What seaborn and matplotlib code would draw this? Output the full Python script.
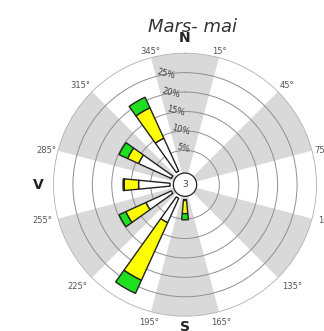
import numpy as np
import seaborn as sns
import matplotlib
matplotlib.use("Agg")
import matplotlib.pyplot as plt

# data (percent of observations per direction, stacked by wind class)
directions = [330, 300, 270, 240, 210, 180]
light = [9.3, 9.3, 8.1, 7.2, 6.9, 0.2]
moderate = [8.6, 3.1, 3.7, 5.7, 16.3, 3.4]
strong = [3.0, 2.4, 0.3, 1.9, 3.7, 1.6]
calm = "3"

ring_values = [5, 10, 15, 20, 25]
ring_labels = ["5%", "10%", "15%", "20%", "25%"]
angle_ticks = [15, 45, 75, 105, 135, 165, 195, 225, 255, 285, 315, 345]
angle_labels = ["15°", "45°", "75°", "105°", "135°", "165°",
                "195°", "225°", "255°", "285°", "315°", "345°"]
compass = [(0, "N"), (270, "V"), (180, "S")]
title = "Mars- mai"

sns.set_style("white")
plt.rcParams["font.family"] = ["DejaVu Sans"]

rmin, rmax = -3.85, 30

fig = plt.figure(figsize=(3.24, 3.31), dpi=100)
ax = fig.add_axes([0.1651, 0.0447, 0.8117, 0.7946], projection="polar")
ax.set_theta_zero_location("N")
ax.set_theta_direction(-1)
ax.set_ylim(rmin, rmax)
ax.set_axisbelow(True)

# alternating grey sectors
sect = np.radians(np.arange(0, 360, 60))
ax.bar(sect, rmax - rmin, width=np.radians(30), bottom=rmin,
       color="#d9d9d9", edgecolor="none", zorder=0.2)

# rings
ax.set_yticks(ring_values)
ax.set_yticklabels([])
ax.set_xticks([])
ax.yaxis.grid(True, color="#8f8f8f", lw=0.7)
ax.xaxis.grid(False)
ax.spines["polar"].set_color("#b0b0b0")
ax.spines["polar"].set_linewidth(0.6)

# stacked wind bars
th = np.radians(directions)
w = np.radians(11)
light = np.array(light)
moderate = np.array(moderate)
strong = np.array(strong)
kw = dict(width=w, edgecolor="#222222", linewidth=1.0, zorder=3)
ax.bar(th, light, bottom=0, color="white", **kw)
ax.bar(th, moderate, bottom=light, color="#ffff00", **kw)
ax.bar(th, strong, bottom=light + moderate, color="#1ee01e", **kw)

# calm circle in the middle
circ = np.linspace(0, 2 * np.pi, 200)
ax.fill(circ, np.full_like(circ, -0.85), facecolor="white",
        edgecolor="#222222", lw=0.9, zorder=4)
ax.text(0, rmin, calm, ha="center", va="center", fontsize=6.5,
        color="#444444", zorder=5)

# ring labels along the 345 line
for v, lbl in zip(ring_values, ring_labels):
    ax.text(np.radians(345), v + 0.2, lbl, ha="left", va="bottom",
            rotation=-15, rotation_mode="anchor", fontsize=6,
            color="#404040", zorder=2)

# angle labels outside the rim
for a, lbl in zip(angle_ticks, angle_labels):
    s, c = np.sin(np.radians(a)), np.cos(np.radians(a))
    ha = "left" if s > 0.3 else ("right" if s < -0.3 else "center")
    va = "bottom" if c > 0.3 else ("top" if c < -0.3 else "center")
    pad = 1.5 if c > 0 else 4.5
    ax.annotate(lbl, xy=(np.radians(a), rmax), xytext=(pad * s, pad * c),
                textcoords="offset points", ha=ha, va=va, fontsize=6,
                color="#555555", annotation_clip=False)

for a, lbl in compass:
    r = 33.8 if a != 180 else 32.8
    ax.text(np.radians(a), r, lbl, ha="center", va="center", fontsize=10,
            fontweight="bold", color="#222222", clip_on=False)

fig.text(192 / 324, 1 - 27 / 331, title, ha="center", va="center",
         fontsize=13, style="italic", color="#333333")

fig.savefig("out.png", dpi=100)
